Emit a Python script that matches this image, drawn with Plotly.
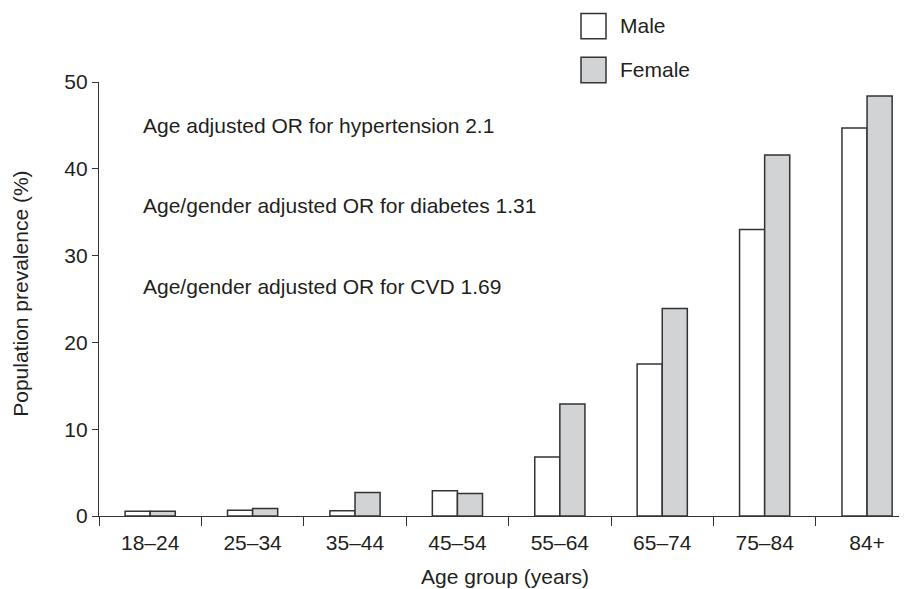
import plotly.graph_objects as go

age_groups = ["18–24", "25–34", "35–44", "45–54", "55–64", "65–74", "75–84", "84+"]
male = [0.55, 0.65, 0.6, 2.9, 6.8, 17.5, 33.0, 44.7]
female = [0.55, 0.85, 2.7, 2.6, 12.9, 23.9, 41.6, 48.4]
y_ticks = [0, 10, 20, 30, 40, 50]
notes = [
    "Age adjusted OR for hypertension 2.1",
    "Age/gender adjusted OR for diabetes 1.31",
    "Age/gender adjusted OR for CVD 1.69",
]
legend_labels = ["Male", "Female"]

FONT = "Liberation Sans, Arial, Helvetica, sans-serif"
FS = 21
TXT = "#231f20"
LINE = "#333333"
FEMALE_FILL = "#d1d3d4"

fig = go.Figure()
fig.add_trace(go.Bar(x=age_groups, y=male, name="Male",
                     marker=dict(color="white", line=dict(color=LINE, width=1.5)),
                     showlegend=False))
fig.add_trace(go.Bar(x=age_groups, y=female, name="Female",
                     marker=dict(color=FEMALE_FILL, line=dict(color=LINE, width=1.5)),
                     showlegend=False))

# page body has an 8px margin: work in window pixels, convert to figure pixels
OFF = 8
WIN_W, WIN_H = 907, 589
W, H = WIN_W - OFF, WIN_H - OFF
L = 99 - OFF
T = 82 - OFF
R = 0
B = WIN_H - 516.5
pw, ph = W - L - R, H - T - B

def px(xw):
    return (xw - OFF - L) / pw

def py(yw):
    return (H - B - (yw - OFF)) / ph

annotations = []
for txt, yw in zip(notes, [126, 206, 287]):
    annotations.append(dict(text=txt, x=px(141), y=py(yw), xref="paper", yref="paper",
                            xanchor="left", yanchor="middle", showarrow=False,
                            font=dict(family=FONT, size=FS, color=TXT)))

annotations.append(dict(text="Age group (years)", x=px(505), y=py(577), xref="paper", yref="paper",
                        xanchor="center", yanchor="middle", showarrow=False,
                        font=dict(family=FONT, size=FS, color=TXT)))
annotations.append(dict(text="Population prevalence (%)", x=px(21), y=py(294), xref="paper", yref="paper",
                        xanchor="center", yanchor="middle", showarrow=False, textangle=-90,
                        font=dict(family=FONT, size=FS, color=TXT)))

shapes = []
legend_fills = ["white", FEMALE_FILL]
for i, (lab, fill) in enumerate(zip(legend_labels, legend_fills)):
    y0 = 13.3 + i * 44
    shapes.append(dict(type="rect", xref="paper", yref="paper",
                       x0=px(581), x1=px(606), y0=py(y0 + 25.4), y1=py(y0),
                       fillcolor=fill, line=dict(color=LINE, width=1.5)))
    annotations.append(dict(text=lab, x=px(618), y=py(y0 + 12), xref="paper", yref="paper",
                            xanchor="left", yanchor="middle", showarrow=False,
                            font=dict(family=FONT, size=FS, color=TXT)))

fig.update_layout(
    width=W, height=H,
    margin=dict(l=L, r=R, t=T, b=B, pad=0),
    paper_bgcolor="white", plot_bgcolor="white",
    barmode="group", bargap=0.51, bargroupgap=0,
    font=dict(family=FONT, size=FS, color=TXT),
    annotations=annotations, shapes=shapes,
    showlegend=False,
)
fig.update_xaxes(type="category", range=[-0.5, 7.39], tickson="boundaries",
                 ticks="outside", ticklen=9, tickwidth=1.3, tickcolor=LINE,
                 ticklabelstandoff=8,
                 showline=True, linecolor=LINE, linewidth=1.3,
                 showgrid=False, zeroline=False,
                 tickfont=dict(family=FONT, size=FS, color=TXT))
fig.update_yaxes(range=[0, 50], tickvals=y_ticks,
                 ticks="outside", ticklen=6, tickwidth=1.3, tickcolor=LINE,
                 ticklabelstandoff=0,
                 showline=True, linecolor=LINE, linewidth=1.3,
                 showgrid=False, zeroline=False,
                 tickfont=dict(family=FONT, size=FS, color=TXT))

fig.write_html("out.html")
